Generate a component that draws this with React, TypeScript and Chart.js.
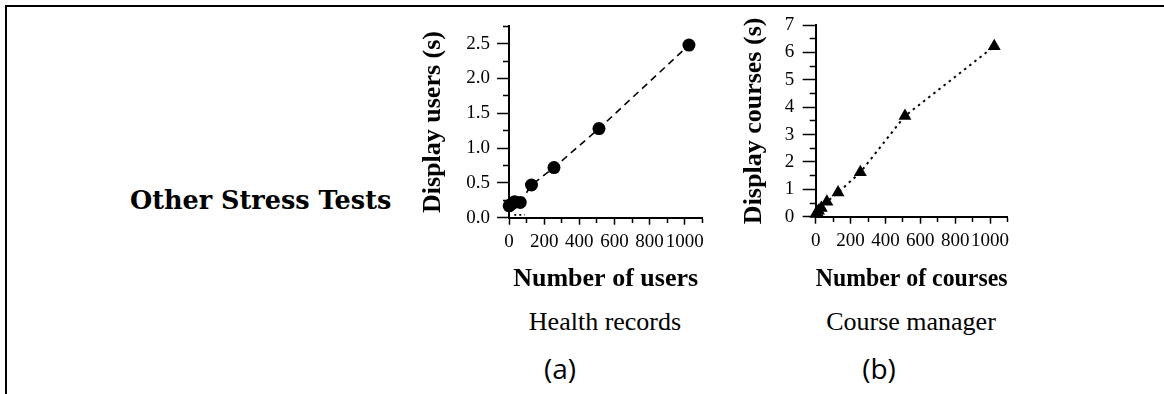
import React, { useEffect, useRef } from 'react';
import { Chart, registerables } from 'chart.js';

Chart.register(...registerables);

// ---- data ----
const usersX = [1, 16, 32, 64, 128, 256, 512, 1024];
const usersY = [0.17, 0.2, 0.23, 0.22, 0.47, 0.72, 1.28, 2.48];
const usersFloorX = [30, 90];
const usersFloorY = [0.04, 0.04];
const coursesX = [1, 8, 16, 32, 64, 128, 256, 512, 1024];
const coursesY = [0.1, 0.15, 0.22, 0.32, 0.55, 0.88, 1.62, 3.68, 6.22];

const xTickLabels = ['0', '200', '400', '600', '800', '1000'];
const usersYTickLabels = ['0.0', '0.5', '1.0', '1.5', '2.0', '2.5'];
const coursesYTickLabels = ['0', '1', '2', '3', '4', '5', '6', '7'];

const SERIF = "'Liberation Serif', 'Times New Roman', serif";

function labelFor(list: string[], v: number): string {
  const hit = list.find((l) => Math.abs(Number(l) - v) < 1e-9);
  return hit === undefined ? '' : hit;
}

type Geo = {
  yScaleWidth: number;
  xScaleHeight: number;
  padTop: number;
  padRight: number;
  yTickLen: number;
  yTickPad: number;
  yTitlePad: number;
};

function makeConfig(
  datasets: any[],
  yMax: number,
  yStep: number,
  yLabels: string[],
  yTitle: string,
  xTitle: string,
  g: Geo
): any {
  return {
    type: 'scatter',
    data: { datasets },
    options: {
      animation: false,
      responsive: false,
      maintainAspectRatio: false,
      devicePixelRatio: 1,
      layout: { padding: { top: g.padTop, right: g.padRight, left: 0, bottom: 0 } },
      plugins: { legend: { display: false }, tooltip: { enabled: false } },
      scales: {
        x: {
          type: 'linear',
          position: 'bottom',
          min: 0,
          max: 1100,
          afterFit: (s: any) => {
            s.height = g.xScaleHeight;
          },
          border: { display: true, color: '#000', width: 2 },
          grid: {
            display: true,
            drawOnChartArea: false,
            drawTicks: true,
            tickLength: 7,
            tickWidth: 1.5,
            tickColor: '#000',
            tickBorderDash: (ctx: any) =>
              ctx.tick && labelFor(xTickLabels, ctx.tick.value) !== '' ? [] : [4, 100],
          },
          ticks: {
            stepSize: 100,
            autoSkip: false,
            maxRotation: 0,
            minRotation: 0,
            padding: 6,
            color: '#000',
            font: { family: SERIF, size: 19 },
            callback: (v: any) => labelFor(xTickLabels, Number(v)),
          },
          title: {
            display: true,
            text: xTitle,
            color: '#000',
            font: { family: SERIF, size: 26, weight: 'bold' },
            padding: { top: 0, bottom: 5 },
          },
        },
        y: {
          type: 'linear',
          position: 'left',
          min: 0,
          max: yMax,
          afterFit: (s: any) => {
            s.width = g.yScaleWidth;
          },
          border: { display: true, color: '#000', width: 2 },
          grid: {
            display: true,
            drawOnChartArea: false,
            drawTicks: true,
            tickLength: g.yTickLen,
            tickWidth: 1.5,
            tickColor: '#000',
            tickBorderDash: (ctx: any) =>
              ctx.tick && labelFor(yLabels, ctx.tick.value) !== ''
                ? []
                : [0, g.yTickLen - 6, 6, 100],
          },
          ticks: {
            stepSize: yStep,
            autoSkip: false,
            padding: g.yTickPad,
            color: '#000',
            font: { family: SERIF, size: 19 },
            callback: (v: any) => labelFor(yLabels, Number(v)),
          },
          title: {
            display: true,
            text: yTitle,
            color: '#000',
            font: { family: SERIF, size: 26, weight: 'bold' },
            padding: { top: g.yTitlePad, bottom: 0 },
          },
        },
      },
    },
  };
}

function ChartCanvas({ config, left, top, width, height }: any) {
  const ref = useRef<HTMLCanvasElement | null>(null);
  useEffect(() => {
    if (!ref.current) return;
    const chart = new Chart(ref.current, config);
    return () => chart.destroy();
  }, []);
  return (
    <canvas
      ref={ref}
      width={width}
      height={height}
      style={{ position: 'absolute', left, top, width, height }}
    />
  );
}

const usersConfig = makeConfig(
  [
    {
      label: 'Display users',
      data: usersX.map((x, i) => ({ x, y: usersY[i] })),
      showLine: true,
      borderColor: '#000',
      borderWidth: 1.6,
      borderDash: [7, 5],
      pointStyle: 'circle',
      pointRadius: 6.5,
      pointBackgroundColor: '#000',
      pointBorderColor: '#000',
      pointBorderWidth: 0,
      clip: false,
    },
    {
      label: 'floor',
      data: usersFloorX.map((x, i) => ({ x, y: usersFloorY[i] })),
      showLine: true,
      borderColor: '#000',
      borderWidth: 1.6,
      borderDash: [2, 3],
      pointRadius: 0,
      clip: false,
    },
  ],
  2.75,
  0.25,
  usersYTickLabels,
  'Display users (s)',
  'Number of users',
  {
    yScaleWidth: 109,
    xScaleHeight: 82.3,
    padTop: 26.3,
    padRight: 17.7,
    yTickLen: 12,
    yTickPad: 7,
    yTitlePad: 17.4,
  }
);

const coursesConfig = makeConfig(
  [
    {
      label: 'Display courses',
      data: coursesX.map((x, i) => ({ x, y: coursesY[i] })),
      showLine: true,
      borderColor: '#000',
      borderWidth: 2,
      borderDash: [2.5, 4],
      pointStyle: 'triangle',
      pointRadius: 7.5,
      pointBackgroundColor: '#000',
      pointBorderColor: '#000',
      pointBorderWidth: 0,
      clip: false,
    },
  ],
  7,
  0.5,
  coursesYTickLabels,
  'Display courses (s)',
  'Number of courses',
  {
    yScaleWidth: 95.7,
    xScaleHeight: 83.3,
    padTop: 25,
    padRight: 42.5,
    yTickLen: 13,
    yTickPad: 8.5,
    yTitlePad: 18.4,
  }
);

function Text({ text, x, baseline, size, family, weight, align, ascentEm }: any) {
  const top = baseline - ascentEm * size;
  const style: React.CSSProperties = {
    position: 'absolute',
    top,
    fontFamily: family,
    fontSize: size,
    fontWeight: weight || 'normal',
    lineHeight: `${size}px`,
    whiteSpace: 'nowrap',
    color: '#000',
  };
  if (align === 'center') {
    style.left = x - 300;
    style.width = 600;
    style.textAlign = 'center';
  } else {
    style.left = x;
  }
  return <div style={style}>{text}</div>;
}

export default function App() {
  return (
    <div
      style={{
        position: 'absolute',
        left: 0,
        top: 0,
        width: 1164,
        height: 394,
        overflow: 'hidden',
        background: '#fff',
      }}
    >
      <div
        style={{
          position: 'absolute',
          left: 5,
          top: 5,
          width: 1200,
          height: 420,
          borderTop: '2px solid #000',
          borderLeft: '2px solid #000',
        }}
      />
      <Text
        text="Other Stress Tests"
        x={130}
        baseline={210}
        size={25.5}
        family="'DejaVu Serif', serif"
        weight="bold"
        ascentEm={0.846}
      />
      <ChartCanvas config={usersConfig} left={400} top={0} width={320} height={300} />
      <ChartCanvas config={coursesConfig} left={720} top={0} width={330} height={300} />
      <Text text="Health records" x={605} baseline={331} size={26} family={SERIF} align="center" ascentEm={0.8375} />
      <Text text="Course manager" x={911} baseline={331} size={26} family={SERIF} align="center" ascentEm={0.8375} />
      <Text text="(a)" x={560} baseline={379} size={28} family="'Open Sans', sans-serif" align="center" ascentEm={0.888} />
      <Text text="(b)" x={879} baseline={379} size={28} family="'Open Sans', sans-serif" align="center" ascentEm={0.888} />
    </div>
  );
}
